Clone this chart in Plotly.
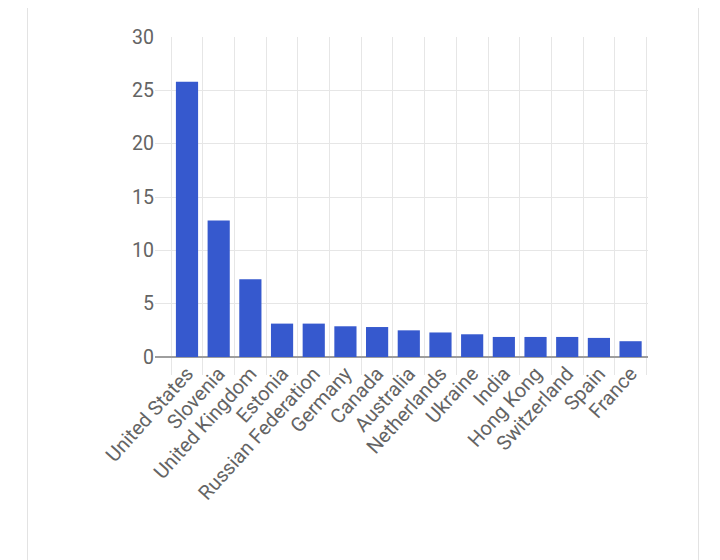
import plotly.graph_objects as go

# Valores
paises = ['United States', 'Slovenia', 'United Kingdom', 'Estonia', 'Russian Federation',
          'Germany', 'Canada', 'Australia', 'Netherlands', 'Ukraine',
          'India', 'Hong Kong', 'Switzerland', 'Spain', 'France']
valores = [25.8, 12.8, 7.3, 3.13, 3.13, 2.88, 2.81, 2.5, 2.3, 2.13,
           1.88, 1.88, 1.88, 1.79, 1.48]

cor_barra = '#3659CE'
cor_texto = '#646464'
cor_grade = '#e6e6e6'

fig = go.Figure()
fig.add_trace(go.Bar(
    x=paises,
    y=valores,
    marker_color=cor_barra,
    marker_line_width=0,
    hoverinfo='x+y'
))

# Borda do "card" ao redor do gráfico
fig.add_shape(
    type='rect', xref='paper', yref='paper',
    x0=-0.2586, x1=1.1024, y0=-2, y1=2,
    line=dict(color='#e3e3e3', width=1),
    fillcolor='rgba(0,0,0,0)', layer='below'
)

# a página tem margem de 8px, por isso as margens compensam
fig.update_layout(
    width=720, height=560,
    margin=dict(l=147, r=80, t=29, b=211),
    paper_bgcolor='white',
    plot_bgcolor='white',
    bargap=0.30,
    showlegend=False,
    font=dict(family='Roboto', color=cor_texto, size=19),
    xaxis=dict(
        type='category',
        range=[-1.01, 14.55],
        tickson='boundaries',
        showgrid=True,
        gridcolor=cor_grade,
        gridwidth=1,
        ticks='outside',
        ticklen=17,
        tickcolor=cor_grade,
        tickangle=-48,
        tickfont=dict(size=20, color=cor_texto),
        showline=False,
        zeroline=False,
        automargin=False,
    ),
    yaxis=dict(
        range=[0, 30],
        dtick=5,
        showgrid=True,
        gridcolor=cor_grade,
        gridwidth=1,
        zeroline=True,
        zerolinecolor='#9e9e9e',
        zerolinewidth=1.5,
        ticks='',
        tickfont=dict(size=19.5, color=cor_texto),
        showline=False,
        automargin=False,
    ),
)

fig.write_html('out.html')
